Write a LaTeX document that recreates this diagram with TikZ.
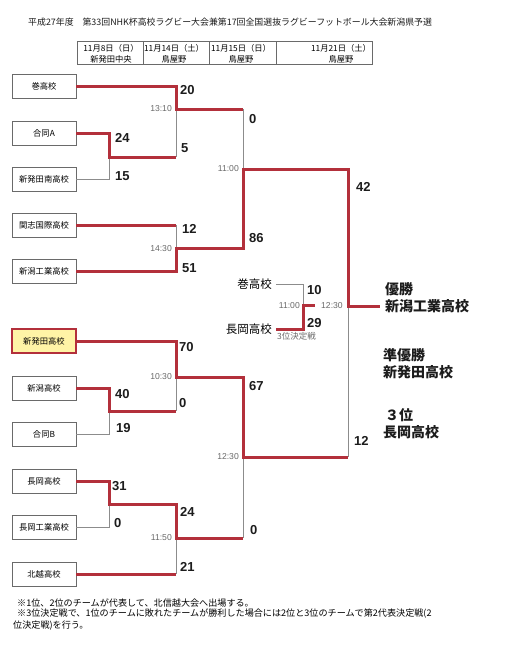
\documentclass[tikz,border=0pt]{standalone}
\usepackage{fontspec}
\setmainfont{Liberation Sans}
\newfontfamily\jp{Noto Sans CJK JP}
\usetikzlibrary{positioning}
\definecolor{bkRed}{HTML}{B3303B}
\definecolor{bkGray}{HTML}{8C8C8C}
\definecolor{bkEdge}{HTML}{6A6A6A}
\definecolor{bkYellow}{HTML}{FFF4A6}
\definecolor{bkInk}{HTML}{1C1C1C}

\begin{document}
\begin{tikzpicture}[x=1pt,y=-1pt,
  team/.style={draw=bkEdge,fill=white,line width=0.8pt,minimum width=64pt,
    minimum height=24pt,inner sep=0pt,font=\jp\fontsize{8.3}{9}\selectfont},
  seed/.style={team,draw=bkRed,line width=2.6pt,fill=bkYellow},
  won/.style={bkRed,line width=3pt},
  lost/.style={bkGray,line width=0.9pt},
  score/.style={anchor=west,inner sep=0pt,text=bkInk,font=\bfseries\fontsize{13}{13}\selectfont},
  clock/.style={anchor=east,inner sep=0pt,text=bkEdge,font=\fontsize{8.6}{9}\selectfont},
  result/.style={anchor=west,inner sep=0pt,text=bkInk,font=\jp\bfseries\fontsize{14}{14}\selectfont},
  note/.style={anchor=west,inner sep=0pt,font=\jp\fontsize{9.1}{10}\selectfont}]
  \fill[white] (0,0) rectangle (512,653);
  \useasboundingbox (0,0) rectangle (512,653);

  % title and schedule
  \node[anchor=west,inner sep=0pt,text=bkInk,font=\jp\fontsize{8.9}{10}\selectfont] (title) at (28,22)
    {平成27年度　第33回NHK杯高校ラグビー大会兼第17回全国選抜ラグビーフットボール大会新潟県予選};
  \draw[bkEdge,line width=0.7pt] (77,41) rectangle (372,64);
  \draw[bkEdge,line width=0.7pt] (143,41) -- (143,64) (209,41) -- (209,64) (276,41) -- (276,64);
  \begin{scope}[every node/.style={inner sep=0pt,font=\jp\fontsize{8.3}{9}\selectfont}]
    \node (day1) at (111,48) {11月8日（日）};
    \node (site1) at (111,59) {新発田中央};
    \node (day2) at (174,48) {11月14日（土）};
    \node (site2) at (174,59) {鳥屋野};
    \node (day3) at (241,48) {11月15日（日）};
    \node (site3) at (241,59) {鳥屋野};
    \node (day4) at (341,48) {11月21日（土）};
    \node (site4) at (341,59) {鳥屋野};
  \end{scope}

  % teams
  \node[team] (maki) at (44,86) {巻高校};
  \node[team] (goudouA) at (44,133) {合同A};
  \node[team] (shibataMinami) at (44,179) {新発田南高校};
  \node[team] (kanshi) at (44,225) {関志国際高校};
  \node[team] (niigataKogyo) at (44,271) {新潟工業高校};
  \node[seed] (shibata) at (44,341) {新発田高校};
  \node[team] (niigata) at (44,388) {新潟高校};
  \node[team] (goudouB) at (44,434) {合同B};
  \node[team] (nagaoka) at (44,481) {長岡高校};
  \node[team] (nagaokaKogyo) at (44,527) {長岡工業高校};
  \node[team] (hokuetsu) at (44,574) {北越高校};

  % match points
  \coordinate (r1a) at (109,157);
  \coordinate (q1) at (176,109);
  \coordinate (q2) at (176,248);
  \coordinate (s1) at (243,169);
  \coordinate (fin) at (348,306);
  \coordinate (r1b) at (109,411);
  \coordinate (q3) at (176,377);
  \coordinate (r1c) at (109,504);
  \coordinate (q4) at (176,538);
  \coordinate (s2) at (243,457);
  \coordinate (third) at (303,305);
  \coordinate (thirdEnd) at (315,305);
  \coordinate (champ) at (380,306);

  % third place match
  \node[anchor=east,inner xsep=4pt,inner ysep=0pt,font=\jp\fontsize{11.5}{12}\selectfont] (maki3) at (276,284) {巻高校};
  \node[anchor=east,inner xsep=4pt,inner ysep=0pt,font=\jp\fontsize{11.5}{12}\selectfont] (nagaoka3) at (276,329) {長岡高校};

  % losers
  \draw[lost] (shibataMinami.east) -| (r1a);
  \draw[lost] (goudouB.east) -| (r1b);
  \draw[lost] (nagaokaKogyo.east) -| (r1c);
  \draw[lost] (q1) -- (q1 |- r1a);
  \draw[lost] (q2) -- (q2 |- kanshi);
  \draw[lost] (q3) -- (q3 |- r1b);
  \draw[lost] (q4) -- (q4 |- hokuetsu);
  \draw[lost] (s1) -- (s1 |- q1);
  \draw[lost] (s2) -- (s2 |- q4);
  \draw[lost] (fin) -- (fin |- s2);
  \draw[lost] (maki3.east) -| (third);

  % winners
  \draw[won] (goudouA.east) -| (r1a) -- (q1 |- r1a);
  \draw[won] (maki.east) -| (q1) -- (s1 |- q1);
  \draw[won] (kanshi.east) -- (q2 |- kanshi);
  \draw[won] (niigataKogyo.east) -| (q2) -- (s1 |- q2) -- (s1) -- (fin |- s1) -- (fin) -- (champ);
  \draw[won] (niigata.east) -| (r1b) -- (q3 |- r1b);
  \draw[won] (shibata.east) -| (q3) -- (s2 |- q3) -- (s2) -- (fin |- s2);
  \draw[won] (nagaoka.east) -| (r1c) -- (q4 |- r1c) -- (q4) -- (s2 |- q4);
  \draw[won] (hokuetsu.east) -- (q4 |- hokuetsu);
  \draw[won] (nagaoka3.east) -| (third) -- (thirdEnd);

  % kick-off times
  \node[clock] (t1310) at (172,109) {13:10};
  \node[clock] (t1430) at (172,249) {14:30};
  \node[clock] (t1100) at (239,169) {11:00};
  \node[clock] (t1030) at (172,377) {10:30};
  \node[clock] (t1150) at (172,538) {11:50};
  \node[clock] (t1230) at (239,457) {12:30};
  \node[clock] (t1100b) at (300,306) {11:00};
  \node[clock,anchor=west] (t1230b) at (321,306) {12:30};
  \node[anchor=west,inner sep=0pt,text=bkEdge,font=\jp\fontsize{8.5}{9}\selectfont] (third3) at (277,336) {3位決定戦};

  % scores
  \node[score] (sMaki) at (180,90) {20};
  \node[score] (sGoudouA) at (115,138) {24};
  \node[score] (sGoudouA2) at (181,148) {5};
  \node[score] (sShibataMinami) at (115,176) {15};
  \node[score] (sKanshi) at (182,229) {12};
  \node[score] (sNiigataKogyo) at (182,268) {51};
  \node[score] (sMaki2) at (249,119) {0};
  \node[score] (sNiigataKogyo2) at (249,238) {86};
  \node[score] (sFinalTop) at (356,187) {42};
  \node[score] (sFinalBottom) at (354,441) {12};
  \node[score] (sMaki3) at (307,290) {10};
  \node[score] (sNagaoka3) at (307,323) {29};
  \node[score] (sShibata) at (179,347) {70};
  \node[score] (sNiigata) at (115,394) {40};
  \node[score] (sNiigata2) at (179,403) {0};
  \node[score] (sGoudouB) at (116,428) {19};
  \node[score] (sShibata2) at (249,386) {67};
  \node[score] (sNagaoka) at (112,486) {31};
  \node[score] (sNagaokaKogyo) at (114,523) {0};
  \node[score] (sNagaoka2) at (180,512) {24};
  \node[score] (sHokuetsu) at (180,567) {21};
  \node[score] (sNagaoka4) at (250,530) {0};

  % standings
  \node[result] (champLabel) at (385,289) {優勝};
  \node[result] (champName) at (385,306) {新潟工業高校};
  \node[result] (secondLabel) at (383,355) {準優勝};
  \node[result] (secondName) at (383,372) {新発田高校};
  \node[result] (thirdLabel) at (385,415) {３位};
  \node[result] (thirdName) at (383,432) {長岡高校};

  % notes
  \node[note] (note1) at (17,603) {※1位、2位のチームが代表して、北信越大会へ出場する。};
  \node[note] (note2) at (17,614) {※3位決定戦で、1位のチームに敗れたチームが勝利した場合には2位と3位のチームで第2代表決定戦(2};
  \node[note] (note3) at (13,626) {位決定戦)を行う。};
\end{tikzpicture}
\end{document}
